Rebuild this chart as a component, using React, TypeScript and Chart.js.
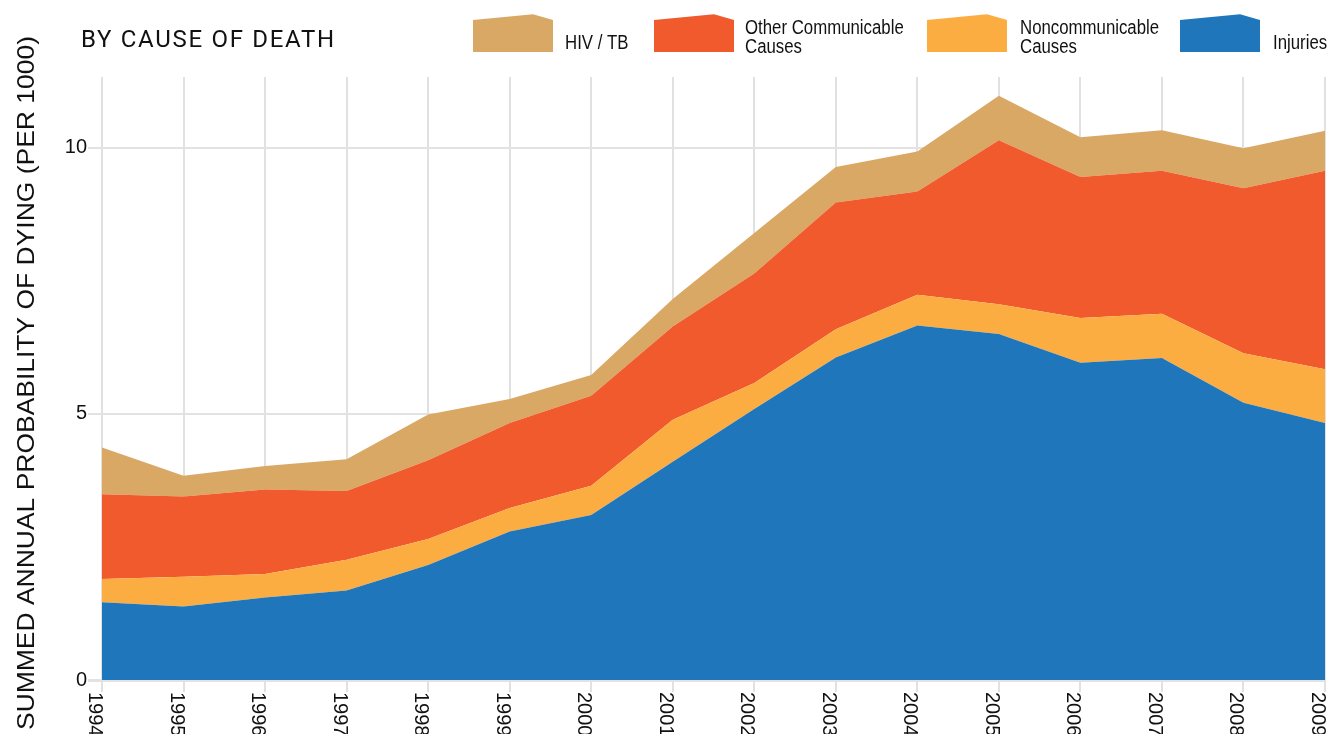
import React, { useEffect, useRef } from 'react';
import { Chart, registerables } from 'chart.js';

Chart.register(...registerables);

// ---- data ----
const years = ['1994', '1995', '1996', '1997', '1998', '1999', '2000', '2001', '2002', '2003', '2004', '2005', '2006', '2007', '2008', '2009'];
const injuries = [1.46, 1.38, 1.55, 1.68, 2.16, 2.79, 3.10, 4.10, 5.09, 6.06, 6.66, 6.50, 5.96, 6.05, 5.21, 4.83];
const noncommunicable = [0.44, 0.56, 0.44, 0.58, 0.49, 0.44, 0.55, 0.79, 0.49, 0.53, 0.58, 0.56, 0.84, 0.83, 0.93, 1.01];
const otherCommunicable = [1.59, 1.51, 1.59, 1.29, 1.48, 1.60, 1.69, 1.75, 2.06, 2.38, 1.94, 3.08, 2.65, 2.69, 3.10, 3.73];
const hivTb = [0.88, 0.39, 0.44, 0.60, 0.86, 0.45, 0.39, 0.52, 0.76, 0.67, 0.75, 0.84, 0.75, 0.76, 0.75, 0.75];
const yTicks = [0, 5, 10];
const yMax = 11.33;

const titleText = 'BY CAUSE OF DEATH';
const yTitleText = 'SUMMED ANNUAL PROBABILITY OF DYING (PER 1000)';
const legendLabels = [['HIV / TB'], ['Other Communicable', 'Causes'], ['Noncommunicable', 'Causes'], ['Injuries']];

const C_HIV = '#d9a865';
const C_OTHER = '#f05a2c';
const C_NONCOMM = '#fbad42';
const C_INJ = '#1f76bb';
const legendColors = [C_HIV, C_OTHER, C_NONCOMM, C_INJ];

const SANS = '"Liberation Sans", Arial, sans-serif';
const NARROW_SCALE = 0.84;

function narrowText(ctx: CanvasRenderingContext2D, text: string, x: number, y: number) {
  ctx.save();
  ctx.translate(x, y);
  ctx.scale(NARROW_SCALE, 1);
  ctx.fillText(text, 0, 0);
  ctx.restore();
}

const decor = {
  id: 'decor',
  afterDraw(chart: any) {
    const ctx = chart.ctx as CanvasRenderingContext2D;
    // Title
    ctx.save();
    ctx.fillStyle = '#111';
    ctx.font = '400 24px Roboto, sans-serif';
    (ctx as any).letterSpacing = '1.7px';
    ctx.textAlign = 'left';
    ctx.textBaseline = 'alphabetic';
    ctx.fillText(titleText, 81, 47);
    ctx.restore();

    // Legend
    const swatchX = [473, 654, 927, 1180];
    const textX = [565, 745, 1020, 1273];
    legendLabels.forEach((lines, i) => {
      const x0 = swatchX[i];
      ctx.save();
      ctx.fillStyle = legendColors[i];
      ctx.beginPath();
      ctx.moveTo(x0, 20);
      ctx.lineTo(x0 + 60, 14.3);
      ctx.lineTo(x0 + 80, 20);
      ctx.lineTo(x0 + 80, 52);
      ctx.lineTo(x0, 52);
      ctx.closePath();
      ctx.fill();
      ctx.fillStyle = '#111';
      ctx.font = '20px ' + SANS;
      ctx.textAlign = 'left';
      ctx.textBaseline = 'alphabetic';
      if (lines.length === 1) {
        narrowText(ctx, lines[0], textX[i], 48.5);
      } else {
        narrowText(ctx, lines[0], textX[i], 34);
        narrowText(ctx, lines[1], textX[i], 52.5);
      }
      ctx.restore();
    });

    // Y axis title
    ctx.save();
    ctx.fillStyle = '#111';
    ctx.font = '24px ' + SANS;
    ctx.translate(34, 383);
    ctx.rotate(-Math.PI / 2);
    const w = ctx.measureText(yTitleText).width;
    ctx.scale(694 / w, 1);
    ctx.textAlign = 'center';
    ctx.textBaseline = 'alphabetic';
    ctx.fillText(yTitleText, 0, 0);
    ctx.restore();

    // X labels, rotated clockwise
    const xs = chart.scales.x;
    ctx.save();
    ctx.fillStyle = '#111';
    ctx.font = '20px ' + SANS;
    years.forEach((yr, i) => {
      const px = xs.getPixelForValue(i);
      ctx.save();
      ctx.translate(px - 13, 692);
      ctx.rotate(Math.PI / 2);
      ctx.textAlign = 'left';
      ctx.textBaseline = 'alphabetic';
      ctx.fillText(yr, 0, 0);
      ctx.restore();
    });
    ctx.restore();
  },
};

export default function App() {
  const ref = useRef<HTMLCanvasElement>(null);
  useEffect(() => {
    document.body.style.margin = '0';
    const common = { borderWidth: 0, pointRadius: 0, pointHoverRadius: 0, tension: 0 };
    const chart = new Chart(ref.current as HTMLCanvasElement, {
      type: 'line',
      data: {
        labels: years,
        datasets: [
          { label: 'Injuries', data: injuries, backgroundColor: C_INJ, borderColor: C_INJ, fill: 'origin', ...common },
          { label: 'Noncommunicable Causes', data: noncommunicable, backgroundColor: C_NONCOMM, borderColor: C_NONCOMM, fill: '-1', ...common },
          { label: 'Other Communicable Causes', data: otherCommunicable, backgroundColor: C_OTHER, borderColor: C_OTHER, fill: '-1', ...common },
          { label: 'HIV / TB', data: hivTb, backgroundColor: C_HIV, borderColor: C_HIV, fill: '-1', ...common },
        ],
      },
      options: {
        responsive: false,
        animation: false,
        layout: { padding: { left: 0, right: 5, top: 77, bottom: 54 } },
        plugins: {
          legend: { display: false },
          tooltip: { enabled: false },
          title: { display: false },
        },
        scales: {
          x: {
            type: 'category',
            offset: false,
            z: 1,
            border: { display: false },
            grid: { color: 'rgba(205,205,205,0.6)', lineWidth: 2, tickLength: 12, drawTicks: true },
            ticks: { display: false },
            afterFit: (s: any) => { s.height = 0; },
          },
          y: {
            stacked: true,
            min: 0,
            max: yMax,
            border: { display: false },
            afterBuildTicks: (s: any) => { s.ticks = yTicks.map((v) => ({ value: v })); },
            grid: {
              color: '#e2e2e2',
              lineWidth: (c: any) => (c.tick && c.tick.value === 0 ? 3 : 2),
              tickLength: 14,
            },
            ticks: { color: '#111', font: { family: SANS, size: 20 }, padding: 1 },
            afterFit: (s: any) => { s.width = 102; },
          },
        },
      },
      plugins: [decor],
    } as any);
    return () => chart.destroy();
  }, []);
  return <canvas ref={ref} width={1330} height={734} style={{ display: 'block' }} />;
}
